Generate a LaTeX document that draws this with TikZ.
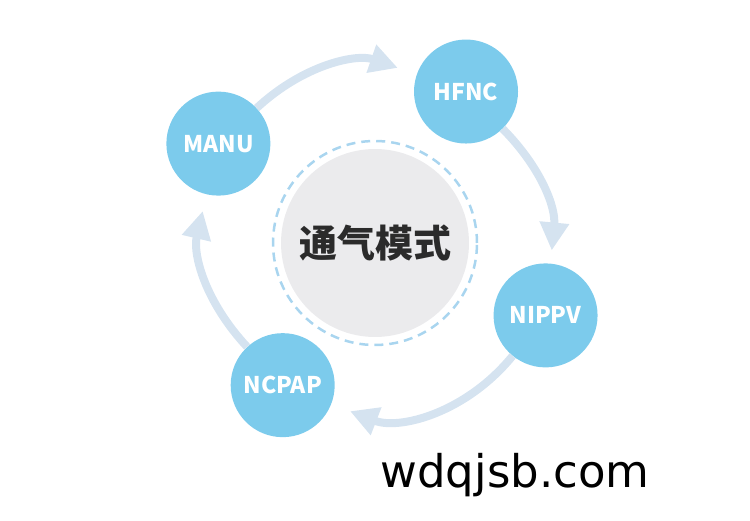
\documentclass[tikz,border=0pt]{standalone}
\usepackage{fontspec}
\setmainfont{Noto Sans CJK SC}
\newfontfamily\sitefont{DejaVu Sans}
\usepackage{tikz}
\usetikzlibrary{arrows.meta,calc}
\definecolor{modeblue}{HTML}{7CCBEC}
\definecolor{flowblue}{HTML}{D5E3F0}
\definecolor{dashblue}{HTML}{A9D5EF}
\definecolor{coregray}{HTML}{EBEBED}
\definecolor{coretext}{HTML}{2B2B2B}

\begin{document}
\begin{tikzpicture}[
        x=1pt, y=1pt,
        mode/.style={circle, fill=modeblue, minimum size=104pt, inner sep=0pt, text=white, font=\fontsize{23}{23}\selectfont\bfseries},
        flow/.style={-{Triangle[length=28pt, width=28pt]}, line width=8pt, draw=flowblue, bend left=31, shorten >=20pt}
    ]
        \useasboundingbox (0,0) rectangle (750,520);
        % centre
        \node[circle, draw=dashblue, line width=2.5pt, dash pattern=on 9pt off 6pt, minimum size=204pt] (ring) at (375,277) {};
        \node[circle, fill=coregray, minimum size=188pt, text=coretext, font=\fontsize{38}{38}\selectfont\bfseries] (vent) at (ring) {通气模式};
        % modes
        \node[mode] (manu) at ($(vent)+(147.6:185.5)$) {MANU};
        \node[mode] (hfnc) at ($(vent)+(59:176.7)$) {HFNC};
        \node[mode] (nippv) at ($(vent)+(-23:185.3)$) {NIPPV};
        \node[mode] (ncpap) at ($(vent)+(-123:169.5)$) {NCPAP};
        \draw[flow] (manu) to (hfnc);
        \draw[flow, bend left=25, shorten >=13pt] (hfnc) to (nippv);
        \draw[flow, bend left=36] (nippv) to (ncpap);
        \draw[flow, bend left=28, shorten >=17pt] (ncpap) to (manu);
        \node[anchor=base west, font=\sitefont\fontsize{45}{45}\selectfont] (site) at (377,33) {wdqjsb.com};
    \end{tikzpicture}
\end{document}
